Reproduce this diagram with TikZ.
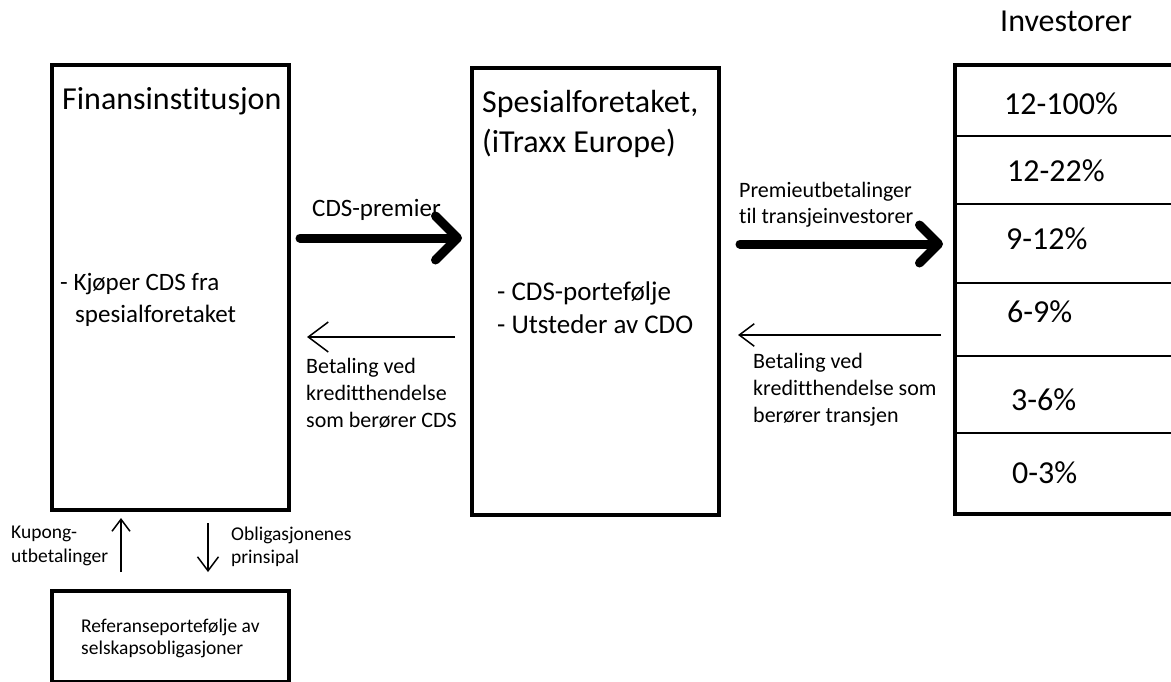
\documentclass[tikz,border=0pt]{standalone}
\usepackage{fontspec}
\setmainfont{Carlito}[Ligatures={NoCommon}]
\usetikzlibrary{arrows.meta}
\begin{document}
\begin{tikzpicture}[x=1pt,y=-1pt,
  box/.style={draw, line width=4pt, inner sep=0pt, anchor=north west},
  txt/.style={inner sep=0pt, anchor=base west},
  big/.style={txt, font=\fontsize{32}{38}\selectfont},
  mid/.style={txt, font=\fontsize{27}{32}\selectfont},
  lft/.style={txt, font=\fontsize{25}{30}\selectfont},
  sml/.style={txt, font=\fontsize{22}{26}\selectfont},
  tiny/.style={txt, font=\fontsize{19.5}{23}\selectfont},
  fatarrow/.style={line width=9pt, line cap=round,
    -{Straight Barb[length=#1, width=2*#1, round]}},
  fatarrow/.default=20pt,
  thinarrow/.style={line width=1.5pt, -{Straight Barb[length=#1, width=1.5*#1]}},
  thinarrow/.default=15pt,
  divider/.style={line width=1.5pt}]
\useasboundingbox (0,0) rectangle (1171,682);

% boxes
\node[box, minimum width=237pt, minimum height=445pt] (fin) at (50,63) {};
\node[box, minimum width=247pt, minimum height=447pt] (spv) at (470,66) {};
\node[box, minimum width=240pt, minimum height=449pt] (inv) at (953,63) {};
\node[box, minimum width=237pt, minimum height=91pt] (ref) at (50,589) {};

% tranche dividers
\foreach \yy/\nm in {136/a,204/b,283/c,356/d,433/e}{
  \coordinate (d\nm l) at (953,\yy);
  \coordinate (d\nm r) at (1193,\yy);
  \draw[divider] (d\nm l) -- (d\nm r);
}

% texts
\node[big] (tinv) at (1000,32) {Investorer};
\node[big] (tfin) at (62,110) {Finansinstitusjon};
\node[lft] (tk1) at (60,290) {- Kjøper CDS fra};
\node[lft] (tk2) at (75,322) {spesialforetaket};
\node[big] (ts1) at (482,113) {Spesialforetaket,};
\node[big] (ts2) at (482,153) {(iTraxx Europe)};
\node[mid] (tc1) at (497,300) {- CDS-portefølje};
\node[mid] (tc2) at (497,333) {- Utsteder av CDO};

\node[lft] (tprem) at (312,217) {CDS-premier};
\node[sml] (tp1) at (739,197) {Premieutbetalinger};
\node[sml] (tp2) at (739,223) {til transjeinvestorer};
\node[sml] (tb1) at (753,368) {Betaling ved};
\node[sml] (tb2) at (753,395) {kreditthendelse som};
\node[sml] (tb3) at (753,422) {berører transjen};
\node[sml] (tl1) at (306,373) {Betaling ved};
\node[sml] (tl2) at (306,400) {kreditthendelse};
\node[sml] (tl3) at (306,427) {som berører CDS};
\node[tiny] (tku1) at (11,538) {Kupong-};
\node[tiny] (tku2) at (11,562) {utbetalinger};
\node[tiny] (tob1) at (231,540) {Obligasjonenes};
\node[tiny] (tob2) at (231,563) {prinsipal};
\node[tiny] (tr1) at (81,632) {Referanseportefølje av};
\node[tiny] (tr2) at (81,654) {selskapsobligasjoner};

\node[big] (q1) at (1004,115) {12-100\%};
\node[big] (q2) at (1007,182) {12-22\%};
\node[big] (q3) at (1006,250) {9-12\%};
\node[big] (q4) at (1007,322) {6-9\%};
\node[big] (q5) at (1011,410) {3-6\%};
\node[big] (q6) at (1012,483) {0-3\%};

% arrows
\coordinate (a1s) at (300,238);
\coordinate (a1e) at (462,238);
\draw[fatarrow=22pt] (a1s) -- (a1e);
\coordinate (a2s) at (740,244);
\coordinate (a2e) at (943,244);
\draw[fatarrow=19pt] (a2s) -- (a2e);
\coordinate (b1s) at (455,337);
\coordinate (b1e) at (307,337);
\draw[thinarrow=20pt] (b1s) -- (b1e);
\coordinate (b2s) at (941,335);
\coordinate (b2e) at (738,335);
\draw[thinarrow=15pt] (b2s) -- (b2e);
\coordinate (c1s) at (121,572);
\coordinate (c1e) at (121,518);
\draw[thinarrow=12pt] (c1s) -- (c1e);
\coordinate (c2s) at (208,523);
\coordinate (c2e) at (208,572);
\draw[thinarrow=14pt] (c2s) -- (c2e);
\end{tikzpicture}
\end{document}
